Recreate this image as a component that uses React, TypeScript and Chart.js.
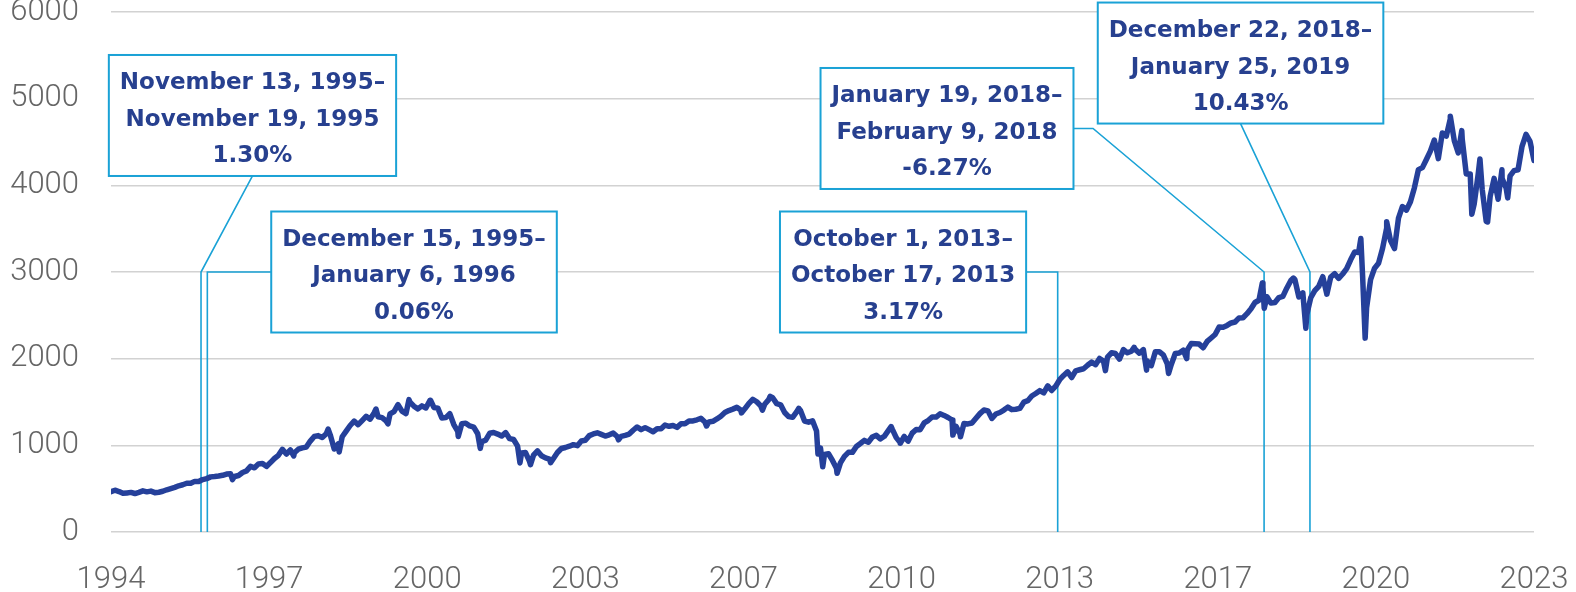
import React, { useEffect, useRef } from 'react';
import { Chart, registerables } from 'chart.js';

Chart.register(...registerables);

// ---------- DATA ----------
const firstYear = 1994;
const startValue = 466; // first trading day, Jan 1994

// Month-end index levels
const closes1994to1998 = [
  482, 467, 446, 451, 457, 444, 458, 475, 463, 472, 454, 459,
  470, 487, 501, 515, 533, 545, 562, 562, 584, 582, 605, 616,
  636, 640, 646, 654, 669, 671, 640, 652, 687, 705, 757, 741,
  786, 791, 757, 801, 848, 885, 954, 899, 947, 915, 955, 970,
  980, 1049, 1102, 1112, 1091, 1134, 1121, 957, 1017, 1099, 1164, 1229,
];
const closes1999to2003 = [
  1280, 1238, 1286, 1335, 1302, 1373, 1329, 1320, 1283, 1363, 1389, 1469,
  1394, 1366, 1499, 1452, 1421, 1455, 1431, 1518, 1437, 1429, 1315, 1320,
  1366, 1240, 1160, 1249, 1256, 1224, 1211, 1134, 1041, 1060, 1139, 1148,
  1130, 1107, 1147, 1077, 1067, 990, 912, 916, 815, 886, 936, 880,
  856, 841, 848, 917, 964, 975, 990, 1008, 996, 1051, 1058, 1112,
];
const closes2004to2008 = [
  1131, 1145, 1126, 1107, 1121, 1141, 1102, 1104, 1115, 1130, 1174, 1212,
  1181, 1204, 1181, 1157, 1192, 1191, 1234, 1220, 1229, 1207, 1249, 1248,
  1280, 1281, 1295, 1311, 1270, 1270, 1277, 1304, 1336, 1378, 1401, 1418,
  1438, 1407, 1421, 1482, 1531, 1503, 1455, 1474, 1527, 1549, 1481, 1468,
  1379, 1331, 1323, 1386, 1400, 1280, 1267, 1283, 1166, 969, 896, 903,
];
const closes2009to2013 = [
  826, 735, 798, 873, 919, 919, 987, 1021, 1057, 1036, 1096, 1115,
  1074, 1104, 1169, 1187, 1089, 1031, 1102, 1049, 1141, 1183, 1181, 1258,
  1286, 1327, 1326, 1364, 1345, 1321, 1292, 1219, 1131, 1253, 1247, 1258,
  1312, 1366, 1408, 1398, 1310, 1362, 1379, 1407, 1441, 1412, 1416, 1426,
  1498, 1515, 1569, 1598, 1631, 1606, 1686, 1633, 1682, 1757, 1806, 1848,
];
const closes2014to2018 = [
  1783, 1859, 1872, 1884, 1924, 1960, 1931, 2003, 1972, 2018, 2068, 2059,
  1995, 2105, 2068, 2086, 2107, 2063, 2104, 1972, 1920, 2079, 2080, 2044,
  1940, 1932, 2060, 2065, 2097, 2099, 2174, 2171, 2168, 2126, 2199, 2239,
  2279, 2364, 2363, 2384, 2412, 2423, 2470, 2472, 2519, 2575, 2648, 2674,
  2824, 2714, 2641, 2648, 2705, 2718, 2816, 2902, 2914, 2712, 2760, 2507,
];
const closes2019to2023 = [
  2704, 2784, 2834, 2946, 2752, 2942, 2980, 2926, 2977, 3038, 3141, 3231,
  3226, 2954, 2585, 2912, 3044, 3100, 3271, 3500, 3363, 3270, 3622, 3756,
  3714, 3811, 3973, 4181, 4204, 4298, 4395, 4523, 4308, 4605, 4567, 4766,
  4516, 4374, 4530, 4132, 4132, 3785, 4130, 3955, 3586, 3872, 4080, 3840,
  4077, 3970, 4109, 4169, 4180, 4450, 4589, 4508, 4288,
];

// Intra-month highs and lows visible in the chart (decimal year, level)
const swingDates = [
  1996.54, 1997.82, 1998.54, 1998.77, 1999.54, 1999.79, 2000.23, 2000.68,
  2001.26, 2001.72, 2002.55, 2002.77, 2003.19, 2004.61, 2006.45, 2007.18,
  2007.62, 2007.78, 2008.38, 2008.78, 2008.88, 2009.18, 2010.31, 2010.5,
  2011.6, 2011.76, 2014.79, 2015.39, 2015.65, 2016.11, 2016.49, 2018.07,
  2018.11, 2018.72, 2018.98, 2019.42, 2020.13, 2020.22, 2020.67, 2022.0,
  2022.24, 2022.45, 2022.62, 2022.78, 2023.08, 2023.2,
];
const swingValues = [
  605, 877, 1187, 923, 1419, 1247, 1527, 1520,
  1103, 965, 797, 777, 800, 1064, 1223, 1374,
  1406, 1565, 1427, 899, 752, 677, 1217, 1023,
  1119, 1099, 1862, 2131, 1868, 1829, 2001, 2873,
  2581, 2930, 2351, 2744, 3386, 2237, 3580, 4797,
  4631, 3667, 4305, 3577, 4180, 3855,
];

const tickLabels = ['1994', '1997', '2000', '2003', '2007', '2010', '2013', '2017', '2020', '2023'];

// Shutdown callouts (text, end date of the period, box position in data units)
const callouts = [
  { lines: ['November 13, 1995–', 'November 19, 1995', '1.30%'], end: 1995.882, boxX: 1996.958, boxY: 4806, anchor: 'bottom', elbow: null },
  { lines: ['December 15, 1995–', 'January 6, 1996', '0.06%'], end: 1996.014, boxX: 2000.335, boxY: 3000, anchor: 'left', elbow: null },
  { lines: ['October 1, 2013–', 'October 17, 2013', '3.17%'], end: 2013.792, boxX: 2010.559, boxY: 3000, anchor: 'right', elbow: null },
  { lines: ['January 19, 2018–', 'February 9, 2018', '-6.27%'], end: 2018.107, boxX: 2011.478, boxY: 4656, anchor: 'right', elbow: [2014.531, 4656] },
  { lines: ['December 22, 2018–', 'January 25, 2019', '10.43%'], end: 2019.066, boxX: 2017.615, boxY: 5411, anchor: 'bottom', elbow: null },
];
const leaderTopValue = 3000;

// ---------- STYLE ----------
const lineColor = '#25409a';
const calloutColor = '#1aa2d6';
const calloutText = '#27408f';
const tickColor = '#666666';
const gridColor = '#d2d2d2';

function buildPoints() {
  const monthly = [
    ...closes1994to1998, ...closes1999to2003, ...closes2004to2008,
    ...closes2009to2013, ...closes2014to2018, ...closes2019to2023,
  ];
  const pts = [{ x: firstYear, y: startValue }];
  monthly.forEach((v, i) => pts.push({ x: firstYear + (i + 1) / 12, y: v }));
  swingDates.forEach((d, i) => pts.push({ x: d, y: swingValues[i] }));
  pts.sort((a, b) => a.x - b.x);
  return pts;
}

const calloutPlugin = {
  id: 'shutdownCallouts',
  beforeDatasetsDraw(chart: any) {
    const { ctx } = chart;
    const xs = chart.scales.x;
    const ys = chart.scales.y;
    const fontSize = 23;
    const lineH = 36.5;
    const padX = 11;
    const padY = 5.75;
    ctx.save();
    ctx.font = `bold ${fontSize}px "DejaVu Sans"`;
    callouts.forEach((c) => {
      const textW = Math.max(...c.lines.map((l) => ctx.measureText(l).width));
      const w = textW + padX * 2;
      const h = c.lines.length * lineH + padY * 2;
      const cx = xs.getPixelForValue(c.boxX);
      const cy = ys.getPixelForValue(c.boxY);
      const left = cx - w / 2;
      const top = cy - h / 2;
      const vx = xs.getPixelForValue(c.end);
      const vTop = ys.getPixelForValue(leaderTopValue);
      const vBot = ys.getPixelForValue(0);
      let sx = cx, sy = top + h;
      if (c.anchor === 'left') { sx = left; sy = cy; }
      if (c.anchor === 'right') { sx = left + w; sy = cy; }
      ctx.strokeStyle = calloutColor;
      ctx.lineWidth = 1.6;
      ctx.beginPath();
      ctx.moveTo(sx, sy);
      if (c.elbow) ctx.lineTo(xs.getPixelForValue(c.elbow[0]), ys.getPixelForValue(c.elbow[1]));
      ctx.lineTo(vx, vTop);
      ctx.lineTo(vx, vBot);
      ctx.stroke();
      ctx.fillStyle = '#ffffff';
      ctx.fillRect(left, top, w, h);
      ctx.lineWidth = 2;
      ctx.strokeRect(left, top, w, h);
      ctx.fillStyle = calloutText;
      ctx.textAlign = 'center';
      ctx.textBaseline = 'middle';
      c.lines.forEach((l, i) => {
        ctx.fillText(l, cx, top + padY + lineH * (i + 0.5) + 4.5);
      });
    });
    ctx.restore();
  },
};

export default function App() {
  const canvasRef = useRef<HTMLCanvasElement | null>(null);

  useEffect(() => {
    document.body.style.margin = '0';
    const canvas = canvasRef.current;
    if (!canvas) return;
    const chart = new Chart(canvas, {
      type: 'line',
      data: {
        datasets: [
          {
            data: buildPoints(),
            borderColor: lineColor,
            borderWidth: 5.5,
            pointRadius: 0,
            tension: 0,
            borderJoinStyle: 'round',
            borderCapStyle: 'round',
            fill: false,
          },
        ],
      },
      options: {
        animation: false,
        responsive: true,
        maintainAspectRatio: false,
        layout: { padding: { top: 12, right: 42, left: 0, bottom: 0 } },
        plugins: { legend: { display: false }, tooltip: { enabled: false } },
        scales: {
          x: {
            type: 'linear',
            min: 1994,
            max: 2023.75,
            grid: { display: false, drawTicks: false },
            border: { display: false },
            afterBuildTicks: (scale: any) => {
              const n = tickLabels.length;
              scale.ticks = tickLabels.map((_, i) => ({ value: scale.min + ((scale.max - scale.min) * i) / (n - 1) }));
            },
            afterFit: (scale: any) => {
              scale.height = 60;
              scale.paddingLeft = 0;
              scale.paddingRight = 0;
              scale.paddingTop = 0;
              scale.paddingBottom = 0;
            },
            ticks: {
              autoSkip: false,
              maxRotation: 0,
              padding: 30,
              color: tickColor,
              font: { family: 'Roboto', weight: '300', size: 31 },
              callback: (_v: any, i: number) => tickLabels[i] ?? '',
            },
          },
          y: {
            min: 0,
            max: 6000,
            grid: { color: gridColor, lineWidth: 1.6, drawTicks: false },
            border: { display: false },
            afterFit: (scale: any) => {
              scale.width = 111;
              scale.paddingLeft = 0;
              scale.paddingRight = 0;
              scale.paddingTop = 0;
              scale.paddingBottom = 0;
            },
            ticks: {
              stepSize: 1000,
              padding: 32,
              color: tickColor,
              font: { family: 'Roboto', weight: '300', size: 31 },
              callback: (v: any) => String(v),
            },
          },
        },
      },
      plugins: [calloutPlugin],
    });
    return () => chart.destroy();
  }, []);

  return (
    <div style={{ position: 'absolute', left: 0, top: 0, width: 1576, height: 592 }}>
      <canvas ref={canvasRef} />
    </div>
  );
}
